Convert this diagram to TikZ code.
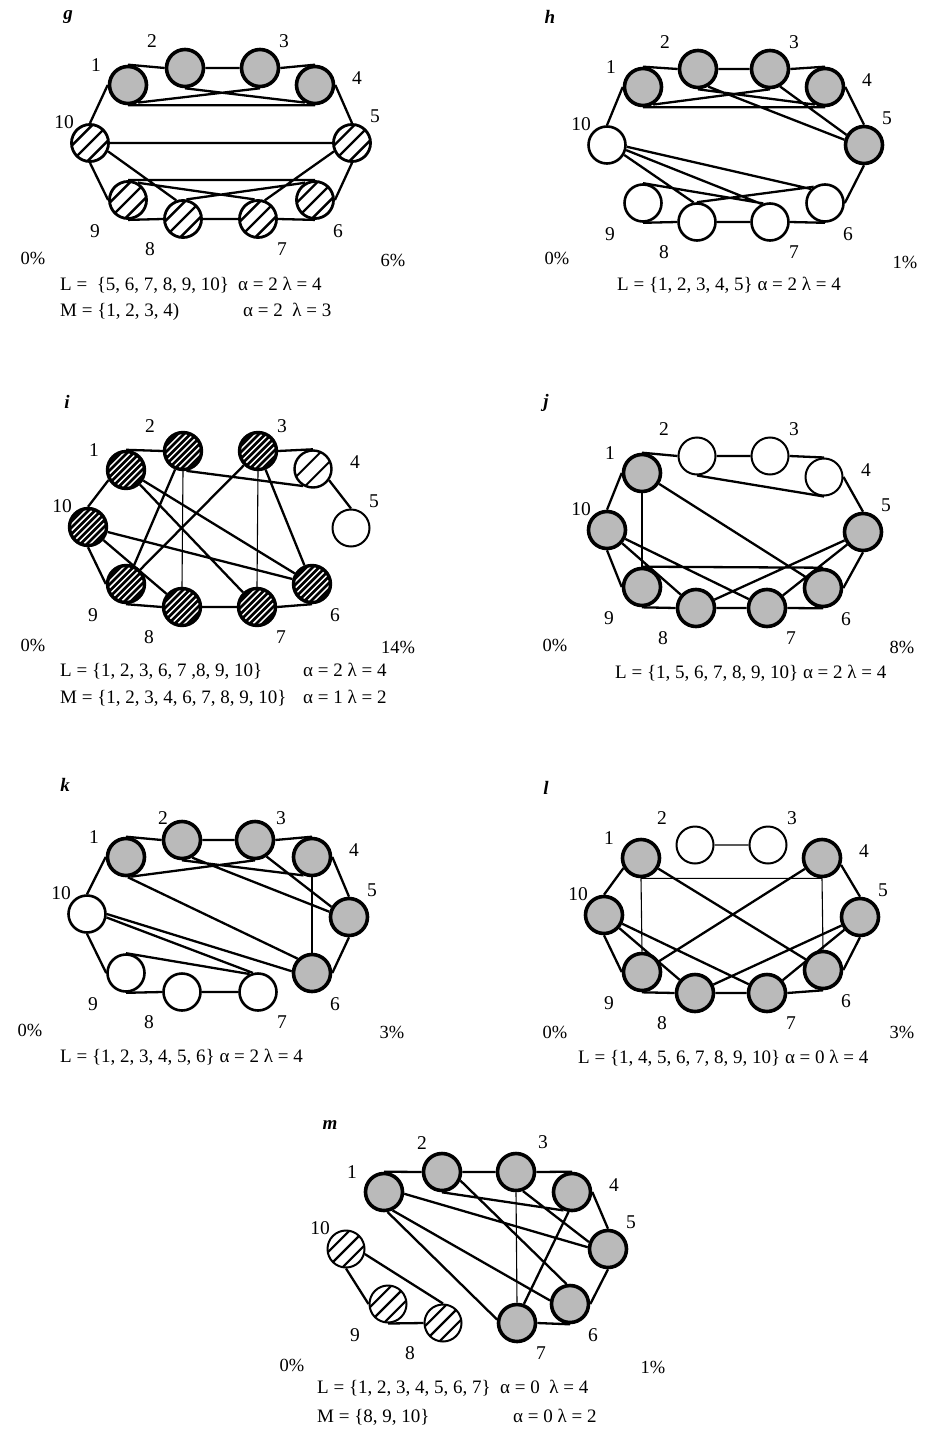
\documentclass[tikz,border=0pt]{standalone}
\usepackage{fontspec}
\setmainfont{Liberation Serif}
\usetikzlibrary{backgrounds}
\tikzset{
 nd/.style={circle,inner sep=0pt,minimum size=37pt},
 hatch/.style n args={4}{path picture={\foreach \k in {-8,...,8}{\draw[line width=#2,#3]
   ([xshift={((\k+#4)*#1*1.4142-40)*1pt},yshift=-40pt]path picture bounding box.center) -- ++(80pt,80pt);}}},
 gr/.style={nd,draw,line width=3.6pt,fill=black!27},
 wh/.style={nd,draw,line width=2.6pt,fill=white},
 wt/.style={nd,draw,line width=2pt,fill=white},
 hA/.style={nd,draw,line width=2.8pt,fill=white,hatch={11}{2.4pt}{black}{0}},
 hC/.style={nd,draw,line width=2pt,fill=white,hatch={10.5}{2.2pt}{black}{0}},
 hB/.style={nd,draw,line width=2.4pt,fill=white,hatch={13}{2pt}{black}{0.5}},
 dk/.style={nd,draw,line width=3.4pt,fill=black,hatch={4.5}{1.5pt}{white}{0}},
 lab/.style={font=\fontsize{19.5}{21}\selectfont,inner sep=0pt},
 txt/.style={font=\fontsize{19}{21}\selectfont,inner sep=0pt,anchor=base west},
 pct/.style={font=\fontsize{18.5}{20}\selectfont,inner sep=0pt},
 plet/.style={font=\fontsize{19}{20}\selectfont\bfseries\itshape,inner sep=0pt},
 e/.style={line width=2.3pt},
 et/.style={line width=1.1pt},
}
\newcommand\nd[3]{\node[#1] (#2) at (#3) {};}
\newcommand\lb[4]{\path (#1) ++(#2,#3) node[lab] (#1l) {#4};}
\newcommand\labs[5]{%
 \lb{#11}{-32}{-20}{1}%
 \lb{#12}{#2}{#3}{2}%
 \lb{#13}{#4}{#5}{3}%
 \lb{#14}{42}{-7}{4}%
 \lb{#15}{23}{-27}{5}%
 \lb{#16}{23}{31}{6}%
 \lb{#17}{24}{30}{7}%
 \lb{#18}{-33}{30}{8}%
 \lb{#19}{-33}{31}{9}%
 \lb{#110}{-26}{-21}{10}%
}
\begin{document}
\begin{tikzpicture}[x=1pt,y=-1pt]
\useasboundingbox (0,0) rectangle (926,1431);
% ---------- panel g ----------
\node[plet] (gname) at (68,17) {g};
\nd{gr}{g1}{128,85} \nd{gr}{g2}{185,68} \nd{gr}{g3}{260,68} \nd{gr}{g4}{315,85}
\nd{hA}{g5}{352,143} \nd{hA}{g6}{315,200} \nd{hA}{g7}{258,219} \nd{hA}{g8}{183,219}
\nd{hA}{g9}{128,200} \nd{hA}{g10}{90,143}
\labs{g}{-33}{-27}{24}{-27}
\node[pct] (gp0) at (33,258) {0\%};
\node[pct] (gp1) at (393,260) {6\%};
\node[txt] (gL) at (60,290) {L = \ \{5, 6, 7, 8, 9, 10\}};
\node[txt] (gLa) at (238,290) {α = 2 λ = 4};
\node[txt] (gM) at (60,316) {M = \{1, 2, 3, 4)};
\node[txt] (gMa) at (243,316) {α = 2 \ λ = 3};
% ---------- panel h ----------
\node[plet] (hname) at (550,17) {h};
\nd{gr}{h1}{643,87} \nd{gr}{h2}{698,69} \nd{gr}{h3}{770,69} \nd{gr}{h4}{825,87}
\nd{gr}{h5}{864,145} \nd{wh}{h6}{825,203} \nd{wh}{h7}{770,222} \nd{wh}{h8}{697,222}
\nd{wh}{h9}{643,203} \nd{wh}{h10}{607,145}
\labs{h}{-33}{-27}{24}{-27}
\node[pct] (hp0) at (557,258) {0\%};
\node[pct] (hp1) at (905,262) {1\%};
\node[txt] (hL) at (617,290) {L = \{1, 2, 3, 4, 5\} α = 2 λ = 4};
% ---------- panel i ----------
\node[plet] (iname) at (67,402) {i};
\nd{dk}{i1}{126,470} \nd{dk}{i2}{183,451} \nd{dk}{i3}{258,451} \nd{hB}{i4}{313,469}
\nd{wt}{i5}{351,528} \nd{dk}{i6}{312,584} \nd{dk}{i7}{257,607} \nd{dk}{i8}{182,607}
\nd{dk}{i9}{126,584} \nd{dk}{i10}{88,527}
\labs{i}{-33}{-25}{24}{-25}
\node[pct] (ip0) at (33,645) {0\%};
\node[pct] (ip1) at (398,647) {14\%};
\node[txt] (iL) at (60,676) {L = \{1, 2, 3, 6, 7 ,8, 9, 10\}};
\node[txt] (iLa) at (303,676) {α = 2 λ = 4};
\node[txt] (iM) at (60,703) {M = \{1, 2, 3, 4, 6, 7, 8, 9, 10\}};
\node[txt] (iMa) at (303,703) {α = 1 λ = 2};
% ---------- panel j ----------
\node[plet] (jname) at (546,403) {j};
\nd{gr}{j1}{642,473} \nd{wt}{j2}{697,456} \nd{wt}{j3}{770,456} \nd{wt}{j4}{824,477}
\nd{gr}{j5}{863,532} \nd{gr}{j6}{823,588} \nd{gr}{j7}{767,608} \nd{gr}{j8}{696,608}
\nd{gr}{j9}{642,587} \nd{gr}{j10}{607,530}
\labs{j}{-33}{-27}{24}{-27}
\node[pct] (jp0) at (555,645) {0\%};
\node[pct] (jp1) at (902,647) {8\%};
\node[txt] (jL) at (615,678) {L = \{1, 5, 6, 7, 8, 9, 10\} α = 2 λ = 4};
% ---------- panel k ----------
\node[plet] (kname) at (65,785) {k};
\nd{gr}{k1}{126,857} \nd{gr}{k2}{182,840} \nd{gr}{k3}{255,840} \nd{gr}{k4}{312,857}
\nd{gr}{k5}{349,917} \nd{gr}{k6}{312,973} \nd{wh}{k7}{258,992} \nd{wh}{k8}{182,992}
\nd{wh}{k9}{126,973} \nd{wh}{k10}{87,914}
\labs{k}{-19}{-22}{26}{-22}
\node[pct] (kp0) at (30,1030) {0\%};
\node[pct] (kp1) at (392,1032) {3\%};
\node[txt] (kL) at (60,1062) {L = \{1, 2, 3, 4, 5, 6\} α = 2 λ = 4};
% ---------- panel l ----------
\node[plet] (lname) at (546,788) {l};
\nd{gr}{l1}{641,858} \nd{wt}{l2}{695,845} \nd{wt}{l3}{768,845} \nd{gr}{l4}{822,858}
\nd{gr}{l5}{860,917} \nd{gr}{l6}{823,970} \nd{gr}{l7}{767,993} \nd{gr}{l8}{695,993}
\nd{gr}{l9}{642,972} \nd{gr}{l10}{604,915}
\labs{l}{-33}{-27}{24}{-27}
\node[pct] (lp0) at (555,1032) {0\%};
\node[pct] (lp1) at (902,1032) {3\%};
\node[txt] (lL) at (578,1063) {L = \{1, 4, 5, 6, 7, 8, 9, 10\} α = 0 λ = 4};
% ---------- panel m ----------
\node[plet] (mname) at (330,1125) {m};
\nd{gr}{m1}{384,1192} \nd{gr}{m2}{442,1172} \nd{gr}{m3}{516,1172} \nd{gr}{m4}{572,1192}
\nd{gr}{m5}{608,1249} \nd{gr}{m6}{570,1304} \nd{gr}{m7}{517,1323} \nd{hC}{m8}{443,1323}
\nd{hC}{m9}{388,1304} \nd{hC}{m10}{346,1249}
\labs{m}{-20}{-29}{27}{-30}
\node[pct] (mp0) at (292,1365) {0\%};
\node[pct] (mp1) at (653,1367) {1\%};
\node[txt] (mL) at (317,1393) {L = \{1, 2, 3, 4, 5, 6, 7\}};
\node[txt] (mLa) at (500,1393) {α = 0 \ λ = 4};
\node[txt] (mM) at (317,1422) {M = \{8, 9, 10\}};
\node[txt] (mMa) at (513,1422) {α = 0 λ = 2};
% ---------- edges ----------
\begin{scope}[on background layer]
% g
\draw[e] (g1.north)--(g2.west) (g2.east)--(g3.west) (g3.east)--(g4.north)
 (g1.south)--(g4.south) (g1.-60)--(g3.south) (g2.south)--(g4.-120)
 (g1.west)--(g10.north) (g4.east)--(g5.north) (g10.east)--(g5.west)
 (g10.south)--(g9.west) (g5.south)--(g6.east) (g9.north)--(g6.north)
 (g9.south)--(g8.west) (g8.east)--(g7.west) (g7.east)--(g6.south)
 (g10.-25)--(g8.110) (g5.-155)--(g7.70) (g9.60)--(g7.100) (g8.80)--(g6.120);
% h
\draw[e] (h1.north)--(h2.west) (h2.east)--(h3.west) (h3.east)--(h4.north)
 (h1.south)--(h4.south) (h1.-60)--(h3.south) (h2.south)--(h4.-120)
 (h2.-60)--(h5.165) (h3.-60)--(h5.150) (h1.west)--(h10.north) (h4.east)--(h5.north)
 (h5.south)--(h6.east) (h6.south)--(h7.east) (h8.east)--(h7.west) (h9.south)--(h8.west)
 (h9.north)--(h7.110) (h8.north)--(h6.125)
 (h10.-5)--(h6.135) (h10.-15)--(h7.115) (h10.-30)--(h8.100);
% i
\draw[e] (i1.north)--(i2.west) (i3.east)--(i4.north) (i2.-80)--(i4.-120)
 (i4.-35)--(i5.north) (i1.-150)--(i10.north) (i10.south)--(i9.west)
 (i9.south)--(i8.west) (i8.east)--(i7.west) (i7.east)--(i6.south)
 (i1)--(i6) (i1)--(i7) (i2)--(i9) (i3)--(i9) (i3)--(i6) (i10)--(i8) (i10)--(i6);
\draw[et] (i2.south)--(i8.north) (i3.south)--(i7.north);
% j
\draw[e] (j1.north)--(j2.west) (j2.east)--(j3.west) (j3.east)--(j4.north)
 (j2.south)--(j4.south) (j4.east)--(j5.north) (j5.south)--(j6.east)
 (j6.south)--(j7.east) (j8.east)--(j7.west) (j9.south)--(j8.west)
 (j10.south)--(j9.west) (j1.west)--(j10.north)
 (j1)--(j6) (j10)--(j8) (j10)--(j7) (j9.north)--(j6.north) (j5)--(j8) (j5)--(j7);
\draw[et] (j1.south)--(j9.north);
% k
\draw[e] (k1.north)--(k2.west) (k2.east)--(k3.west) (k3.east)--(k4.north)
 (k1.-75)--(k3.south) (k2.south)--(k4.-115) (k2.-60)--(k5.165) (k3.-55)--(k5.150)
 (k4.east)--(k5.north) (k5.south)--(k6.east) (k1.west)--(k10.north)
 (k10.south)--(k9.west) (k9.south)--(k8.west) (k8.east)--(k7.west)
 (k1.-85)--(k6.135) (k10.east)--(k6.175) (k10.-10)--(k7.105) (k9.north)--(k7.115);
\draw[et] (k4.south)--(k6.north);
% l
\draw[et] (l2.east)--(l3.west) (l1.south)--(l4.south) (l1.south)--(l9.north) (l4.south)--(l6.north);
\draw[e] (l1)--(l6) (l4)--(l9) (l1.-150)--(l10.north) (l4.-20)--(l5.north)
 (l10.south)--(l9.west) (l5.south)--(l6.east) (l9.south)--(l8.west)
 (l8.east)--(l7.west) (l7.east)--(l6.south)
 (l10)--(l7) (l10)--(l8) (l5)--(l8) (l5)--(l7);
% m
\draw[e] (m1.north)--(m2.west) (m2.east)--(m3.west) (m3.east)--(m4.north)
 (m2.south)--(m4.-115) (m1.-5)--(m5.175) (m2.-25)--(m6.100) (m3.-70)--(m5.160)
 (m4.-100)--(m7.70) (m1.-65)--(m6.170) (m1.-80)--(m7.170)
 (m4.east)--(m5.north) (m5.south)--(m6.east) (m6.south)--(m7.east)
 (m10.south)--(m9.west) (m9.south)--(m8.west) (m10.-15)--(m8.north);
\draw[et] (m3.south)--(m7.north);
\end{scope}
\end{tikzpicture}
\end{document}
